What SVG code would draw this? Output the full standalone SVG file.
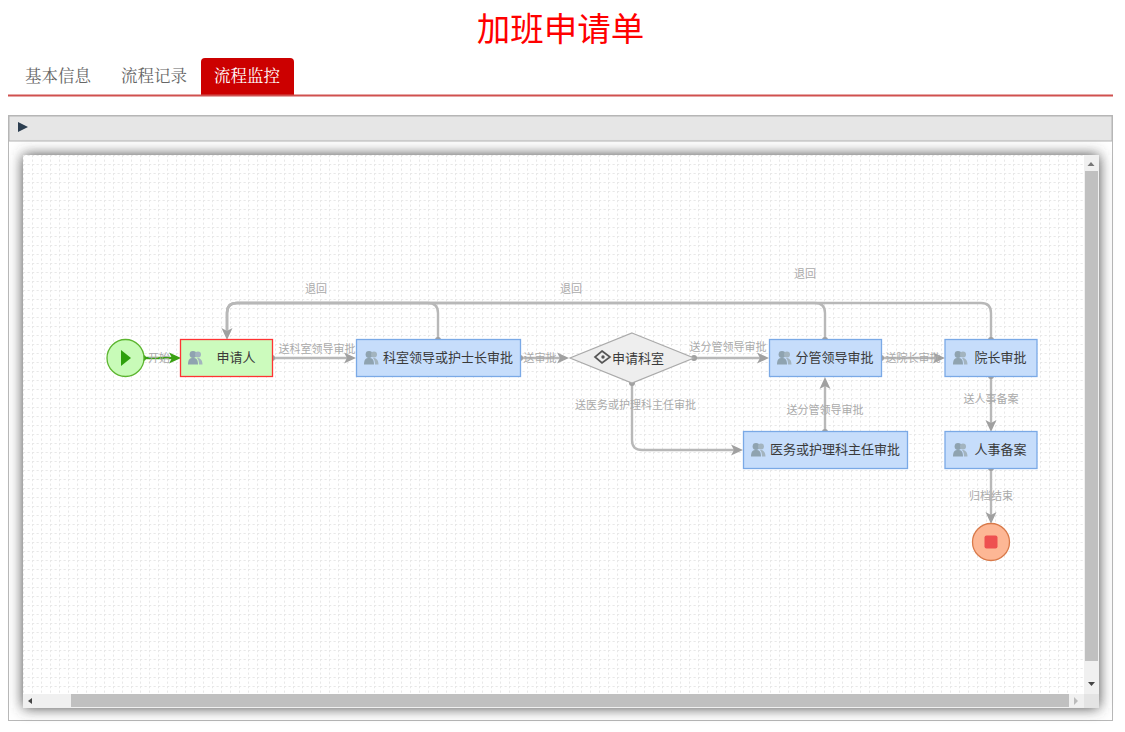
<svg xmlns="http://www.w3.org/2000/svg" width="1125" height="732" viewBox="0 0 1125 732">
<style>
text{font-family:"Liberation Sans","Noto Sans CJK SC",sans-serif}
.tab{font-family:"Liberation Serif","Noto Serif CJK SC","Noto Sans CJK SC",serif;font-size:16.500px;fill:#666}
.task{fill:#c6ddfb;stroke:#7aa9e6;stroke-width:1.300}
.nl{font-size:13px;fill:#3a3a3a;text-anchor:middle}
.el{font-size:11px;fill:#aaa;text-anchor:middle}
.e{fill:none;stroke:#b8b8b8;stroke-width:2.400}
.d{fill:#a0a0a0}
.a{fill:#a0a0a0}
.u{fill:#8fa3b0}
</style>
<defs>
<pattern id="grid" x="23" y="155" width="9" height="9" patternUnits="userSpaceOnUse">
<path d="M0 .5H9M.5 0V9" fill="none" stroke="#e8e8e8" stroke-dasharray="2.250 2.250"/>
</pattern>
<filter id="sh" x="-5%" y="-5%" width="110%" height="110%"><feGaussianBlur stdDeviation="7"/></filter>
<g id="user"><circle cx="-2" cy="-3.500" r="3.400" class="u"/><path d="M-7 6.500C-7 1-5 0-2 0S3 1 3 6.500Z" class="u"/><circle cx="3" cy="-3.500" r="3" fill="#a3b4bf"/><path d="M2 0C5 0 7.500 1.500 7.500 6.500H4C4 3.500 3.500 1.500 2 0Z" fill="#a3b4bf"/></g>
</defs>
<rect width="1125" height="732" fill="#fff"/>
<text x="560.500" y="41" text-anchor="middle" font-size="33.500" fill="#f00" style="font-family:'Noto Sans CJK SC',sans-serif">加班申请单</text>
<text class="tab" x="25" y="81.500">基本信息</text>
<text class="tab" x="121" y="81.500">流程记录</text>
<path d="M201 95V62q0-4 4-4h85q4 0 4 4v33Z" fill="#c00"/>
<text class="tab" x="214" y="81.500" style="fill:#fff">流程监控</text>
<path d="M8 95.500H1113" stroke="#d0504f" stroke-width="2"/>
<rect x="8.500" y="115.500" width="1104" height="605" fill="#fff" stroke="#b8b8b8"/>
<rect x="9" y="116" width="1103" height="25" fill="#e6e6e6" stroke="#b4b4b4"/>
<path d="M18 122L28 127L18 132Z" fill="#2c3e50"/>
<rect x="23" y="155" width="1076" height="553" fill="#444" filter="url(#sh)"/>
<rect x="23" y="155" width="1076" height="553" fill="#fff"/>
<rect x="23" y="155" width="1061" height="539" fill="url(#grid)"/>
<rect x="1084" y="155" width="15" height="539" fill="#f0f0f0"/>
<rect x="1085" y="171" width="13" height="490" fill="#c0c0c0"/>
<path d="M1087.500 166L1091 162L1094.500 166H1087.500Z" fill="#777"/>
<path d="M1088 682H1095L1091.500 686Z" fill="#444"/>
<rect x="23" y="694" width="1061" height="14" fill="#f0f0f0"/>
<rect x="71" y="694" width="998" height="13" fill="#c0c0c0"/>
<path d="M32 698V704L28 701Z" fill="#444"/>
<path d="M1074 697V705L1078 701Z" fill="#bbb"/>
<rect x="1084" y="694" width="15" height="14" fill="#e4e4e4"/>

<g id="connectors">
<path d="M143 358H172" fill="none" stroke="#3aa012" stroke-width="2.400"/>
<circle cx="143" cy="358" r="3" fill="#3aa012"/>
<path d="M181 358L169 352.500L172 358L169 363.500Z" fill="#3aa012"/>
<text class="el" x="159" y="362">开始</text>
<path class="e" d="M272 358H348"/>
<circle class="d" cx="272" cy="358" r="3"/>
<path class="a" d="M356 358L344 352.500L347 358L344 363.500Z"/>
<text class="el" x="317" y="353">送科室领导审批</text>
<path class="e" d="M520 358H561"/>
<circle class="d" cx="520" cy="358" r="3"/>
<path class="a" d="M569 358L557 352.500L560 358L557 363.500Z"/>
<text class="el" x="540" y="362">送审批</text>
<path class="e" d="M694 358H761"/>
<circle class="d" cx="694" cy="358" r="3"/>
<path class="a" d="M769 358L757 352.500L760 358L757 363.500Z"/>
<text class="el" x="728" y="351">送分管领导审批</text>
<path class="e" d="M881 358H937"/>
<circle class="d" cx="881" cy="358" r="3"/>
<path class="a" d="M945 358L933 352.500L936 358L933 363.500Z"/>
<text class="el" x="913" y="362">送院长审批</text>
<path class="e" d="M632 383V440q0 10 10 10H736"/>
<circle class="d" cx="632" cy="383" r="3"/>
<path class="a" d="M743 450L731 444.500L734 450L731 455.500Z"/>
<text class="el" x="635.500" y="409">送医务或护理科主任审批</text>
<path class="e" d="M825 432V385"/>
<circle class="d" cx="825" cy="432" r="3"/>
<path class="a" d="M825 377L819.500 389L825 386L830.500 389Z"/>
<text class="el" x="825" y="414">送分管领导审批</text>
<path class="e" d="M991 376V424"/>
<circle class="d" cx="991" cy="376" r="3"/>
<path class="a" d="M991 432L985.500 420L991 423L996.500 420Z"/>
<text class="el" x="991" y="403">送人事备案</text>
<path class="e" d="M991 468V516"/>
<circle class="d" cx="991" cy="468" r="3"/>
<path class="a" d="M991 524L985.500 512L991 515L996.500 512Z"/>
<text class="el" x="991" y="500">归档结束</text>
<path class="e" d="M438 340V313q0-10-10-10H237q-10 0-10 10V332"/>
<circle class="d" cx="438" cy="340" r="3"/>
<path class="e" d="M825 340V313q0-10-10-10H237q-10 0-10 10V332"/>
<circle class="d" cx="825" cy="340" r="3"/>
<path class="e" d="M991 340V313q0-10-10-10H237q-10 0-10 10V332"/>
<circle class="d" cx="991" cy="340" r="3"/>
<path class="a" d="M227 340L221.500 328L227 331L232.500 328Z"/>
<text class="el" x="316" y="293">退回</text>
<text class="el" x="571" y="293">退回</text>
<text class="el" x="805" y="278">退回</text>
</g>

<g id="start"><circle cx="125.500" cy="358" r="18.500" fill="#c8fbb8" stroke="#5cb52f" stroke-width="1.300"/><path d="M121 350L131 358L121 366Z" fill="#2ea00c"/></g>
<g id="n1"><rect x="180.500" y="339.500" width="92" height="37" fill="#ccfbbd" stroke="#f33" stroke-width="1.300"/><use href="#user" x="195" y="358"/><text class="nl" x="236" y="362">申请人</text></g>
<g id="n2"><rect class="task" x="356.500" y="339.500" width="164" height="37"/><use href="#user" x="371" y="358"/><text class="nl" x="448" y="362">科室领导或护士长审批</text></g>
<g id="n3"><path d="M632 333L694 358L632 383L570 358Z" fill="#eee" stroke="#aaa" stroke-width="1.200"/><path d="M602 351L610 357L602 363L595 357Z" fill="none" stroke="#555" stroke-width="1.700"/><circle cx="603" cy="357" r="1.700" fill="#555"/><text class="nl" x="638" y="363">申请科室</text></g>
<g id="n4"><rect class="task" x="769.500" y="339.500" width="112" height="37"/><use href="#user" x="784" y="358"/><text class="nl" x="834.500" y="362">分管领导审批</text></g>
<g id="n5"><rect class="task" x="945" y="339.500" width="92" height="37"/><use href="#user" x="960" y="358"/><text class="nl" x="1000.500" y="362">院长审批</text></g>
<g id="n6"><rect class="task" x="743.500" y="431.500" width="164" height="37"/><use href="#user" x="758" y="450"/><text class="nl" x="835" y="454">医务或护理科主任审批</text></g>
<g id="n7"><rect class="task" x="945" y="431.500" width="92" height="37"/><use href="#user" x="960" y="450"/><text class="nl" x="1000.500" y="454">人事备案</text></g>
<g id="end"><circle cx="991" cy="542" r="18.500" fill="#fdb795" stroke="#d97a4a" stroke-width="1.300"/><rect x="984.500" y="535.500" width="13" height="13" rx="2" fill="#ee5050"/></g>
</svg>
